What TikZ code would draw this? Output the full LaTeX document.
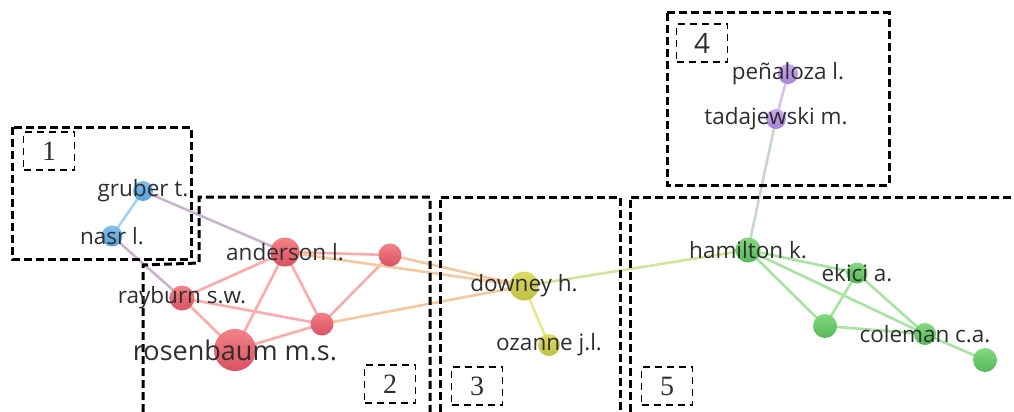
\documentclass[tikz,border=0pt]{standalone}
\usepackage{fontspec}
\setmainfont{Open Sans}
\newfontfamily\numfont{Liberation Serif}
\usepackage{xcolor}
\usepackage{tikz}
\usetikzlibrary{positioning}

\definecolor{redtop}{HTML}{F27C80}
\definecolor{redbot}{HTML}{D8485A}
\definecolor{bluetop}{HTML}{7CBCEC}
\definecolor{bluebot}{HTML}{4F9BD8}
\definecolor{yeltop}{HTML}{DADA60}
\definecolor{yelbot}{HTML}{BDBD3A}
\definecolor{grntop}{HTML}{7ED67A}
\definecolor{grnbot}{HTML}{4DB451}
\definecolor{purtop}{HTML}{C9A6EE}
\definecolor{purbot}{HTML}{A17CD6}
\definecolor{redlink}{HTML}{F9ACAA}
\definecolor{bluelink}{HTML}{A6D0F2}
\definecolor{mixlink}{HTML}{C8B4CC}
\definecolor{orglink}{HTML}{F6C8A0}
\definecolor{yellink}{HTML}{E6E88C}
\definecolor{ygrlink}{HTML}{CFE69A}
\definecolor{grnlink}{HTML}{A9E2A2}
\definecolor{gplink}{HTML}{C6D6CC}
\definecolor{purlink}{HTML}{D8C2F2}
\definecolor{labelgray}{HTML}{2E2E2E}

\pgfdeclarelayer{background}
\pgfsetlayers{background,main}

\tikzset{
  vnode/.style={circle, inner sep=0pt, opacity=.95},
  rednode/.style={vnode, top color=redtop, bottom color=redbot},
  bluenode/.style={vnode, top color=bluetop, bottom color=bluebot},
  yelnode/.style={vnode, top color=yeltop, bottom color=yelbot},
  grnnode/.style={vnode, top color=grntop, bottom color=grnbot},
  purnode/.style={vnode, top color=purtop, bottom color=purbot},
  lbl/.style={text=labelgray, inner sep=0pt, font=\fontsize{22.5}{26}\selectfont},
  biglbl/.style={lbl, font=\fontsize{27}{31}\selectfont},
  link/.style={line width=2.6pt, line cap=round},
  cluster/.style={draw=black, line width=3pt, dash pattern=on 8pt off 4pt},
  tagbox/.style={draw=black, line width=1.5pt, dash pattern=on 7pt off 5pt,
    minimum width=51pt, minimum height=38pt, inner sep=0pt,
    font=\numfont\fontsize{28}{30}\selectfont, text=labelgray},
}

\begin{document}
\begin{tikzpicture}[x=1pt, y=-1pt]
  \useasboundingbox (0,0) rectangle (1014,412);

  % cluster boxes
  \draw[cluster] (12,127) rectangle (191,259);
  \draw[cluster] (143,412) -- (143,265) -- (199,263) -- (199,197)
    -- (430,197) -- (430,412);
  \draw[cluster] (440,412) -- (440,197) -- (620,197) -- (620,412);
  \draw[cluster] (630,412) -- (630,197) -- (1014,197);
  \draw[cluster] (667,13) rectangle (889,185);

  \node[tagbox] (tag1) at (49,151) {1};
  \node[tagbox] (tag2) at (390,384) {2};
  \node[tagbox] (tag3) at (477,386) {3};
  \node[tagbox, font=\fontsize{28}{30}\selectfont] (tag4) at (702,43) {4};
  \node[tagbox] (tag5) at (667,386) {5};

  % authors
  \node[bluenode, minimum size=20pt] (gruber) at (143,191) {};
  \node[bluenode, minimum size=21pt] (nasr) at (112,236) {};
  \node[rednode, minimum size=29pt] (anderson) at (285,252) {};
  \node[rednode, minimum size=23pt] (redA) at (390,255) {};
  \node[rednode, minimum size=25pt] (rayburn) at (182,298) {};
  \node[rednode, minimum size=23pt] (redB) at (322,324) {};
  \node[rednode, minimum size=42pt] (rosenbaum) at (235,350) {};
  \node[yelnode, minimum size=29pt] (downey) at (524,286) {};
  \node[yelnode, minimum size=22pt] (ozanne) at (549,345) {};
  \node[grnnode, minimum size=25pt] (hamilton) at (748,250) {};
  \node[grnnode, minimum size=21pt] (ekici) at (857,273) {};
  \node[grnnode, minimum size=24pt] (grnA) at (825,326) {};
  \node[grnnode, minimum size=22pt] (coleman) at (925,334) {};
  \node[grnnode, minimum size=24pt] (grnB) at (985,360) {};
  \node[purnode, minimum size=20pt] (penaloza) at (788,74) {};
  \node[purnode, minimum size=20pt] (tadajewski) at (776,119) {};

  % links
  \begin{pgfonlayer}{background}
    \draw[link, bluelink] (gruber.center) -- (nasr.center);
    \draw[link, mixlink] (gruber.center) -- (anderson.center);
    \draw[link, mixlink] (nasr.center) -- (rayburn.center);
    \foreach \a/\b in {anderson/redA, anderson/rayburn, anderson/rosenbaum,
        anderson/redB, redA/redB, rayburn/rosenbaum, rayburn/redB,
        rosenbaum/redB}
      \draw[link, redlink] (\a.center) -- (\b.center);
    \foreach \a in {anderson, redA, redB}
      \draw[link, orglink] (\a.center) -- (downey.center);
    \draw[link, yellink] (downey.center) -- (ozanne.center);
    \draw[link, ygrlink] (downey.center) -- (hamilton.center);
    \draw[link, gplink] (hamilton.center) -- (tadajewski.center);
    \draw[link, purlink] (tadajewski.center) -- (penaloza.center);
    \foreach \a/\b in {hamilton/ekici, hamilton/coleman, hamilton/grnA,
        ekici/grnA, ekici/coleman, grnA/coleman, coleman/grnB}
      \draw[link, grnlink] (\a.center) -- (\b.center);
  \end{pgfonlayer}

  % labels
  \node[lbl] (gruber-l) at (gruber) {gruber t.};
  \node[lbl] (nasr-l) at (nasr) {nasr l.};
  \node[lbl] (anderson-l) at (anderson) {anderson l.};
  \node[lbl] (rayburn-l) at (rayburn) {rayburn s.w.};
  \node[biglbl] (rosenbaum-l) at (rosenbaum) {rosenbaum m.s.};
  \node[lbl] (downey-l) at (downey) {downey h.};
  \node[lbl] (ozanne-l) at (ozanne) {ozanne j.l.};
  \node[lbl] (hamilton-l) at (hamilton) {hamilton k.};
  \node[lbl] (ekici-l) at (ekici) {ekici a.};
  \node[lbl] (coleman-l) at (coleman) {coleman c.a.};
  \node[lbl] (penaloza-l) at (penaloza) {peñaloza l.};
  \node[lbl] (tadajewski-l) at (tadajewski) {tadajewski m.};
\end{tikzpicture}
\end{document}
